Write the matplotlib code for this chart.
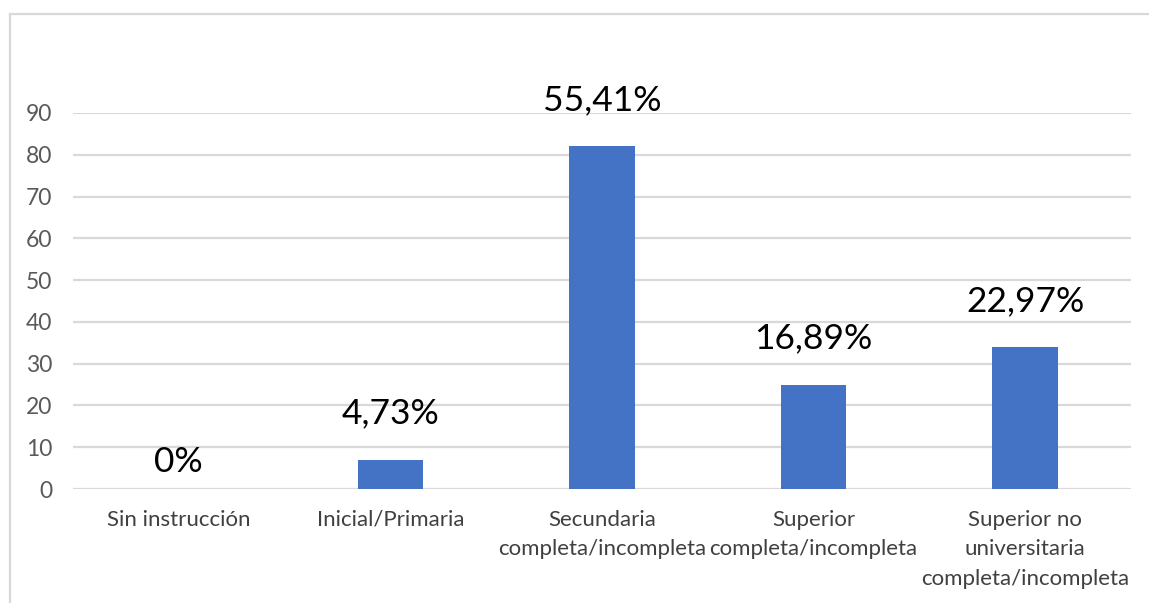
import matplotlib
matplotlib.use("Agg")
import matplotlib.pyplot as plt
from matplotlib.lines import Line2D

categories = ["Sin instrucción", "Inicial/Primaria", "Secundaria\ncompleta/incompleta",
              "Superior\ncompleta/incompleta", "Superior no\nuniversitaria\ncompleta/incompleta"]
values = [0, 7, 82, 25, 34]
pct_labels = ["0%", "4,73%", "55,41%", "16,89%", "22,97%"]
yticks = [0, 10, 20, 30, 40, 50, 60, 70, 80, 90]

plt.rcParams['font.family'] = ['Lato', 'DejaVu Sans']

W, H = 1149, 603
fig = plt.figure(figsize=(W / 100, H / 100), dpi=100)
ax = fig.add_axes([73 / W, 1 - 489 / H, (1131 - 73) / W, (489 - 113) / H])

x = list(range(len(categories)))
ax.bar(x, values, width=0.31, color="#4472C4", zorder=3)
ax.set_xlim(-0.5, len(categories) - 0.5)
ax.set_ylim(0, 90)
ax.set_yticks(yticks)
ax.yaxis.grid(True, color="#D9D9D9", linewidth=1.6)
ax.set_axisbelow(True)
for s in ax.spines.values():
    s.set_visible(False)
ax.tick_params(axis="y", length=0, pad=15, labelsize=16.5, labelcolor="#595959")
ax.tick_params(axis="x", length=0, pad=15, labelsize=16, labelcolor="#404040")
ax.set_xticks(x)
ax.set_xticklabels(categories, linespacing=1.6)
for xi, v, lab in zip(x, values, pct_labels):
    off = 12 if v == 0 else 26
    ax.annotate(lab, (xi, v), xytext=(0, off), textcoords="offset points",
                ha="center", va="baseline", fontsize=25.5, color="black", clip_on=False)

# chart border (left and top)
fig.add_artist(Line2D([9.5 / W, 9.5 / W], [0, 1 - 14 / H], transform=fig.transFigure,
                      color="#D9D9D9", linewidth=1.6))
fig.add_artist(Line2D([9.5 / W, 1], [1 - 14 / H, 1 - 14 / H], transform=fig.transFigure,
                      color="#D9D9D9", linewidth=1.6))

fig.savefig("out.png", dpi=100)
